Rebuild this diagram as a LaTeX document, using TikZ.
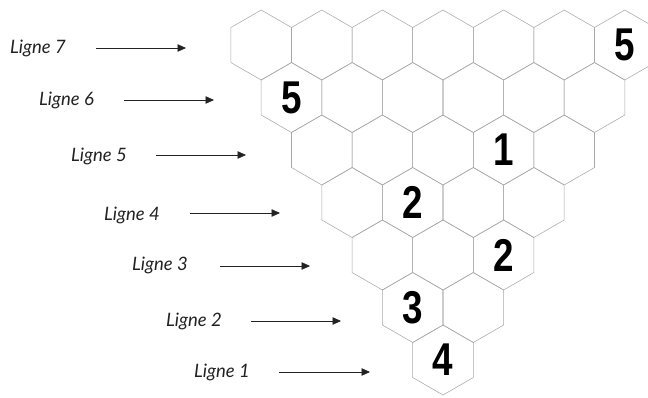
\documentclass[tikz,border=0pt]{standalone}
\usepackage{fontspec}
\setmainfont{Lato}
\newfontfamily\numfont{Liberation Sans}
\usetikzlibrary{shapes.geometric,arrows.meta}
\definecolor{hexgray}{HTML}{A8A8A8}
\definecolor{inkgray}{HTML}{222222}
\begin{document}
\begin{tikzpicture}[x=1pt,y=-1pt,
  hexcell/.style={regular polygon, regular polygon sides=6, shape border rotate=30,
    minimum size=70pt, inner sep=0pt, draw=hexgray, line width=0.55pt},
  rowlabel/.style={font=\itshape\fontsize{18.5}{20}\selectfont, anchor=base west,
    inner sep=0pt, text=inkgray},
  rowarrow/.style={draw=inkgray, line width=0.6pt, -{Triangle[length=8.5pt,width=7.5pt]}},
  digit/.style={font=\numfont\bfseries\fontsize{46}{46}\selectfont, text=black}]
\useasboundingbox (0,0) rectangle (648,397);

% triangular stack of hexagons: row r holds r cells, row 1 at the bottom
\foreach \r in {1,...,7}{
  \foreach \k in {1,...,\r}{
    \node[hexcell] (h-\r-\k) at ({443-(\r-1)*30.3+(\k-1)*60.6},{360-(\r-1)*52.5}) {};
  }
}

% numbers written in some cells
\node[digit] at (h-7-7) {\scalebox{0.8}[1]{5}};
\node[digit] at (h-6-1) {\scalebox{0.8}[1]{5}};
\node[digit] at (h-5-4) {\scalebox{0.8}[1]{1}};
\node[digit] at (h-4-2) {\scalebox{0.8}[1]{2}};
\node[digit] at (h-3-3) {\scalebox{0.8}[1]{2}};
\node[digit] at (h-2-1) {\scalebox{0.8}[1]{3}};
\node[digit] at (h-1-1) {\scalebox{0.8}[1]{4}};

% row labels with their arrows
\node[rowlabel] (l7) at (10,53)   {Ligne 7};
\node[rowlabel] (l6) at (39,105)  {Ligne 6};
\node[rowlabel] (l5) at (71,161.5) {Ligne 5};
\node[rowlabel] (l4) at (104,220) {Ligne 4};
\node[rowlabel] (l3) at (132,270) {Ligne 3};
\node[rowlabel] (l2) at (166,326.5) {Ligne 2};
\node[rowlabel] (l1) at (194,377) {Ligne 1};

\coordinate (a7s) at (96,48);   \coordinate (a7e) at (186,48);
\coordinate (a6s) at (124,100); \coordinate (a6e) at (214,100);
\coordinate (a5s) at (156,155); \coordinate (a5e) at (246,155);
\coordinate (a4s) at (190,213); \coordinate (a4e) at (280,213);
\coordinate (a3s) at (220,266); \coordinate (a3e) at (310,266);
\coordinate (a2s) at (251,321); \coordinate (a2e) at (341,321);
\coordinate (a1s) at (279,372); \coordinate (a1e) at (370,372);
\foreach \i in {1,...,7}{ \draw[rowarrow] (a\i s) -- (a\i e); }
\end{tikzpicture}
\end{document}
